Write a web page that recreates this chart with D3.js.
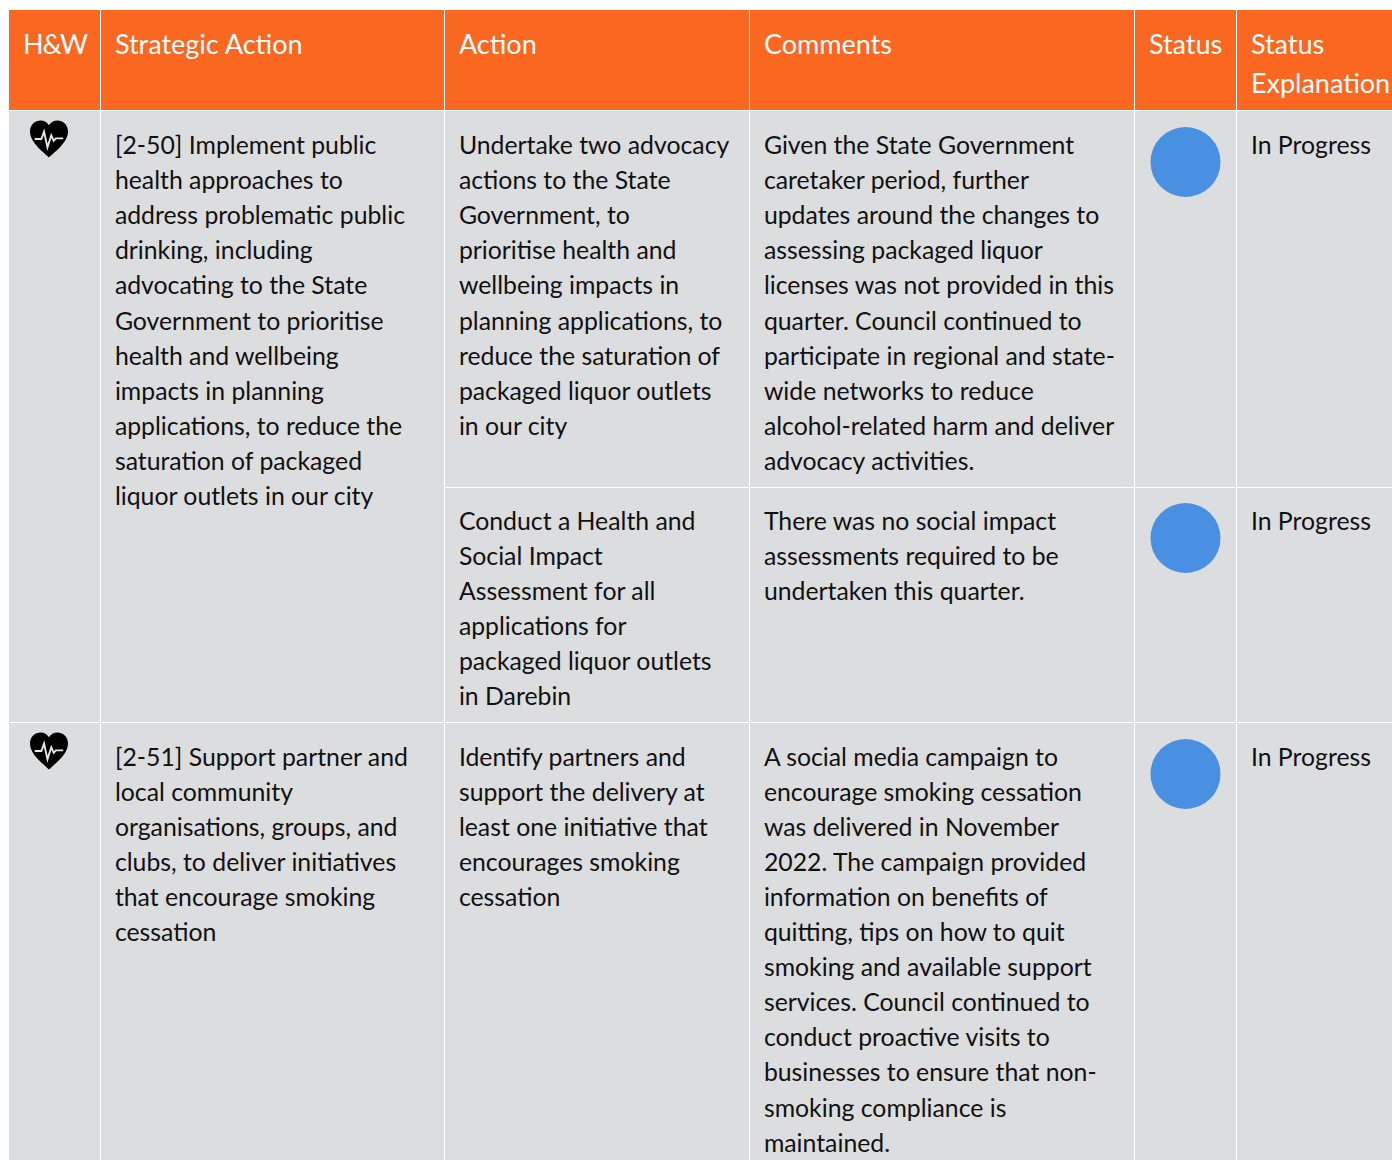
<!DOCTYPE html>
<html><head><meta charset="utf-8">
<script src="https://cdnjs.cloudflare.com/ajax/libs/d3/7.8.5/d3.min.js"></script>
<style>html,body{margin:0;padding:0;background:#fff;overflow:hidden}svg{display:block}text{font-family:Lato,Carlito,sans-serif}</style>
</head><body><div id="chart"></div>
<script>
const headers = [["H&W"],["Strategic Action"],["Action"],["Comments"],["Status"],["Status","Explanation"]];
const strategic = [
 {row:0, lines:["[2-50] Implement public","health approaches to","address problematic public","drinking, including","advocating to the State","Government to prioritise","health and wellbeing","impacts in planning","applications, to reduce the","saturation of packaged","liquor outlets in our city"]},
 {row:2, lines:["[2-51] Support partner and","local community","organisations, groups, and","clubs, to deliver initiatives","that encourage smoking","cessation"]}
];
const actions = [
 ["Undertake two advocacy","actions to the State","Government, to","prioritise health and","wellbeing impacts in","planning applications, to","reduce the saturation of","packaged liquor outlets","in our city"],
 ["Conduct a Health and","Social Impact","Assessment for all","applications for","packaged liquor outlets","in Darebin"],
 ["Identify partners and","support the delivery at","least one initiative that","encourages smoking","cessation"]
];
const comments = [
 ["Given the State Government","caretaker period, further","updates around the changes to","assessing packaged liquor","licenses was not provided in this","quarter. Council continued to","participate in regional and state-","wide networks to reduce","alcohol-related harm and deliver","advocacy activities."],
 ["There was no social impact","assessments required to be","undertaken this quarter."],
 ["A social media campaign to","encourage smoking cessation","was delivered in November","2022. The campaign provided","information on benefits of","quitting, tips on how to quit","smoking and available support","services. Council continued to","conduct proactive visits to","businesses to ensure that non-","smoking compliance is","maintained."]
];
const statuses = ["In Progress","In Progress","In Progress"];
const columnEdges = [9,100.5,444.5,749.5,1134.5,1236.5,1392];
const rowEdges = [10,110.5,487.5,722.5,1160];
const heartRows = [0,2];

const W=1392,H=1160,ORANGE="#fa6721",GREY="#dcddde",BLUE="#4a90e2",LH=35.1,PAD=14.4;
const textInset=[43.5,42,43], circleInset=[51.5,50.5,51.5];
const x=d3.scaleOrdinal().domain(d3.range(7)).range(columnEdges);
const y=d3.scaleOrdinal().domain(d3.range(5)).range(rowEdges);
const svg=d3.select("#chart").append("svg").attr("width",W).attr("height",H);

svg.append("rect").attr("x",x(0)).attr("y",y(0)).attr("width",x(6)-x(0)).attr("height",y(1)-y(0)).attr("fill",ORANGE);
svg.append("rect").attr("x",x(0)).attr("y",y(1)).attr("width",x(6)-x(0)).attr("height",y(4)-y(1)).attr("fill",GREY);

const rule=(x1,x2,y1,y2)=>svg.append("line").attr("x1",x1).attr("x2",x2).attr("y1",y1).attr("y2",y2).attr("stroke","#fff").attr("stroke-width",1);
d3.range(1,6).forEach(c=>rule(x(c),x(c),y(0),y(4)));
rule(x(0),x(6),y(1),y(1));
rule(x(2),x(6),y(2),y(2));
rule(x(0),x(6),y(3),y(3));

function block(col,row,lines,opt={}){
  const top=y(row)+(opt.off??textInset[row-1]), g=svg.append("g");
  g.selectAll("text").data(lines).join("text")
   .attr("x",x(col)+(opt.pad??PAD)).attr("y",(d,i)=>top+i*(opt.lh??LH))
   .attr("font-size",opt.size??24.8).attr("letter-spacing",opt.ls??0)
   .attr("fill",opt.fill??"#111").text(d=>d);
}
headers.forEach((h,i)=>block(i,0,h,{off:43.5,lh:39,fill:"#fff",size:27,pad:i==0?14:PAD,ls:i==0?-1:0}));
strategic.forEach(s=>block(1,s.row+1,s.lines));
actions.forEach((a,r)=>block(2,r+1,a));
comments.forEach((a,r)=>block(3,r+1,a));
statuses.forEach((s,r)=>block(5,r+1,[s]));
statuses.forEach((s,r)=>svg.append("circle").attr("cx",(x(4)+x(5))/2).attr("cy",y(r+1)+circleInset[r]).attr("r",35).attr("fill",BLUE));

heartRows.forEach(r=>{
  const g=svg.append("g").attr("transform",`translate(49,${y(r+1)+28.5}) scale(1.9,1.85)`);
  g.append("path").attr("fill","#000").attr("d","M0,10 C-3,7 -10,2 -10,-4 C-10,-8 -7,-10 -4.5,-10 C-2.5,-10 -1,-9 0,-7.5 C1,-9 2.5,-10 4.5,-10 C7,-10 10,-8 10,-4 C10,2 3,7 0,10 Z");
  g.append("path").attr("fill","none").attr("stroke","#e8e8e8").attr("stroke-width",1).attr("d","M-7.5,0 L-4,0 L-2.6,-4 L-.8,4.5 L1.2,-2 L2.5,1 L3.6,-.3 L7.5,-.3");
});
</script></body></html>
